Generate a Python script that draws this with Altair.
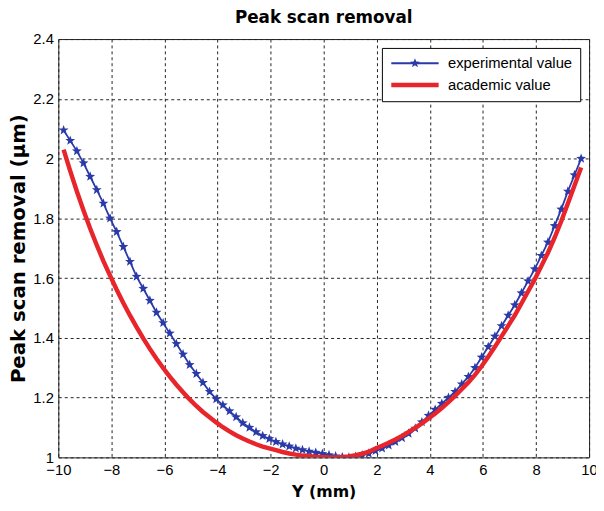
import math
import altair as alt
import pandas as pd

# ---- data ----
x_mm = [-9.8, -9.55, -9.3, -9.05, -8.8, -8.55, -8.3, -8.05, -7.8, -7.55,
        -7.3, -7.05, -6.8, -6.55, -6.3, -6.05, -5.8, -5.55, -5.3, -5.05,
        -4.8, -4.55, -4.3, -4.05, -3.8, -3.55, -3.3, -3.05, -2.8, -2.55,
        -2.3, -2.05, -1.8, -1.55, -1.3, -1.05, -0.8, -0.55, -0.3, -0.05,
        0.2, 0.45, 0.7, 0.95, 1.2, 1.45, 1.7, 1.95, 2.2, 2.45,
        2.7, 2.95, 3.2, 3.45, 3.7, 3.95, 4.2, 4.45, 4.7, 4.95,
        5.2, 5.45, 5.7, 5.95, 6.2, 6.45, 6.7, 6.95, 7.2, 7.45,
        7.7, 7.95, 8.2, 8.45, 8.7, 8.95, 9.2, 9.45, 9.7]

experimental = [2.095, 2.06, 2.025, 1.985, 1.94, 1.895, 1.85, 1.80, 1.755, 1.705,
                1.655, 1.605, 1.565, 1.525, 1.485, 1.45, 1.415, 1.38, 1.345, 1.31,
                1.28, 1.25, 1.22, 1.195, 1.175, 1.155, 1.135, 1.115, 1.10, 1.085,
                1.072, 1.062, 1.052, 1.044, 1.037, 1.03, 1.025, 1.02, 1.016, 1.012,
                1.008, 1.004, 1.001, 1.0, 1.002, 1.007, 1.013, 1.022, 1.03, 1.04,
                1.052, 1.065, 1.08, 1.097, 1.118, 1.14, 1.16, 1.18, 1.20, 1.22,
                1.245, 1.27, 1.30, 1.335, 1.37, 1.405, 1.44, 1.475, 1.51, 1.55,
                1.59, 1.63, 1.675, 1.72, 1.775, 1.83, 1.89, 1.945, 2.0]

academic = [2.03, 1.958, 1.89, 1.826, 1.766, 1.71, 1.657, 1.608, 1.561, 1.517,
            1.475, 1.436, 1.398, 1.363, 1.33, 1.299, 1.27, 1.243, 1.218, 1.194,
            1.172, 1.152, 1.134, 1.117, 1.101, 1.087, 1.074, 1.063, 1.053, 1.044,
            1.036, 1.03, 1.024, 1.018, 1.013, 1.009, 1.006, 1.004, 1.002, 1.001,
            1.0, 1.0, 1.001, 1.003, 1.007, 1.012, 1.019, 1.03, 1.039, 1.049,
            1.06, 1.072, 1.085, 1.099, 1.114, 1.13, 1.147, 1.165, 1.185, 1.206,
            1.228, 1.251, 1.276, 1.305, 1.337, 1.37, 1.405, 1.44, 1.475, 1.515,
            1.555, 1.595, 1.64, 1.685, 1.735, 1.79, 1.85, 1.91, 1.97]

series_names = ["experimental value", "academic value"]
x_ticks = [-10, -8, -6, -4, -2, 0, 2, 4, 6, 8, 10]
y_ticks = [1.0, 1.2, 1.4, 1.6, 1.8, 2.0, 2.2, 2.4]

BLUE = "#2a3aa8"
RED = "#e8252a"


def star_path(cx, cy, r_out, r_in, n=5):
    pts = []
    for i in range(2 * n):
        r = r_out if i % 2 == 0 else r_in
        a = -math.pi / 2 + i * math.pi / n
        pts.append((cx + r * math.cos(a), cy + r * math.sin(a)))
    d = "M%.3f,%.3f" % pts[0]
    for p in pts[1:]:
        d += "L%.3f,%.3f" % p
    return d + "Z"


STAR = star_path(0, 0, 1, 0.42)
LEG_BLUE = "M-1,-0.17H7V0.17H-1Z" + star_path(3, 0, 0.85, 0.36)
LEG_RED = "M-1,-0.38H7V0.38H-1Z"

df = pd.DataFrame({"x": x_mm, "exp": experimental, "aca": academic})
leg_df = pd.DataFrame({"series": series_names})

xs = alt.Scale(domain=[-10, 10], nice=False, zero=False)
ys = alt.Scale(domain=[1.0, 2.4], nice=False, zero=False)

x_axis = alt.Axis(values=x_ticks, title="Y (mm)", titleFontSize=16,
                  labelPadding=5, titlePadding=7, labelFlush=False,
                  labelOverlap=False)
y_axis = alt.Axis(values=y_ticks, format=".1~f", title="Peak scan removal (μm)",
                  titleFontSize=20, labelPadding=5, titlePadding=4,
                  labelFlush=False, labelOverlap=False)

base = alt.Chart(df)

blue_line = base.mark_line(color=BLUE, strokeWidth=1.8, clip=True).encode(
    x=alt.X("x:Q", scale=xs, axis=x_axis),
    y=alt.Y("exp:Q", scale=ys, axis=y_axis),
)
blue_pts = base.mark_point(shape=STAR, filled=True, color=BLUE, size=110,
                           opacity=1, strokeWidth=0, clip=True).encode(
    x="x:Q", y="exp:Q")
red_line = base.mark_line(color=RED, strokeWidth=4.5, clip=True).encode(
    x="x:Q", y="aca:Q")

leg = alt.Legend(title=None, orient="none", legendX=328, legendY=9,
                 fillColor="white", strokeColor="black",
                 padding=8, symbolSize=144, symbolStrokeWidth=0,
                 labelFont="Liberation Sans", labelFontSize=15,
                 labelColor="black", labelOffset=44, rowPadding=6)

legend_layer = alt.Chart(leg_df).mark_point(filled=True, opacity=1, strokeWidth=0).encode(
    color=alt.Color("series:N",
                    scale=alt.Scale(domain=series_names, range=[BLUE, RED]),
                    legend=leg),
    shape=alt.Shape("series:N",
                    scale=alt.Scale(domain=series_names, range=[LEG_BLUE, LEG_RED]),
                    legend=leg),
).transform_filter("false")

chart = alt.layer(blue_line, blue_pts, red_line, legend_layer).properties(
    width=538, height=424,
    background="white",
    title=alt.TitleParams("Peak scan removal", font="DejaVu Sans", fontSize=17,
                          fontWeight="bold", color="black", offset=5,
                          anchor="middle"),
    autosize=alt.AutoSizeParams(type="none"),
    padding={"left": 51, "top": 28, "right": 7, "bottom": 60},
).configure_view(stroke="#222", strokeWidth=1).configure_axis(
    grid=True, gridColor="#222", gridDash=[3, 3], gridOpacity=1, gridWidth=1,
    domain=False, ticks=False,
    labelFont="Liberation Sans", labelFontSize=15, labelColor="black",
    titleFont="DejaVu Sans", titleFontWeight="bold", titleColor="black",
)

chart.save("out.html", embed_options={"renderer": "svg", "actions": False})
